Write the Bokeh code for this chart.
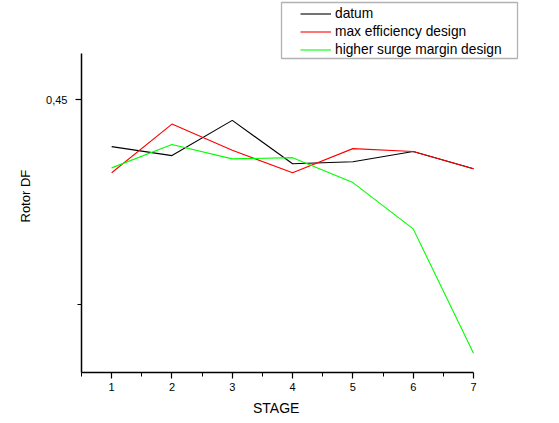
from bokeh.plotting import figure
from bokeh.models import FixedTicker, Legend, LegendItem, BoxAnnotation, Range1d, Title
from bokeh.embed import file_html
from bokeh.resources import INLINE

stages = [1, 2, 3, 4, 5, 6, 7]
datum = [0.4385, 0.4363, 0.4449, 0.4343, 0.4348, 0.4373, 0.4331]
max_efficiency = [0.4321, 0.4440, 0.4376, 0.4321, 0.4380, 0.4373, 0.4331]
higher_surge = [0.4333, 0.4390, 0.4355, 0.4358, 0.4297, 0.4184, 0.3880]

x_major_ticks = [1, 2, 3, 4, 5, 6, 7]
x_minor_ticks = [0.5, 1.5, 2.5, 3.5, 4.5, 5.5, 6.5]
y_major_ticks = [0.45]
y_minor_ticks = [0.40]
y_tick_labels = {0.45: "0,45"}
series_names = ["datum", "max efficiency design", "higher surge margin design"]
series_colors = ["#000000", "#ff0000", "#00ff00"]

x_axis_bounds = (0.5, 7)
y_axis_bounds = (0.38332, 0.46124)

FONT = "Liberation Sans"

p = figure(width=555, height=420, output_backend="svg", toolbar_location=None,
           x_range=Range1d(0.5, 8.3597), y_range=Range1d(0.38332, 0.474182),
           min_border_left=81, min_border_right=0, min_border_top=0,
           min_border_bottom=48)
p.outline_line_color = None
p.xgrid.visible = False
p.ygrid.visible = False
p.background_fill_color = "white"
p.border_fill_color = "white"

box = BoxAnnotation(left=200, right=436, top=370, bottom=314,
                    left_units="screen", right_units="screen",
                    top_units="screen", bottom_units="screen",
                    fill_alpha=0.0,
                    line_color="#000000", line_width=1.3, level="underlay")
p.add_layout(box)

renderers = []
for ys, c in zip([datum, max_efficiency, higher_surge], series_colors):
    r = p.line(stages, ys, line_color=c, line_width=1.1)
    renderers.append(r)

for ax in (p.xaxis[0], p.yaxis[0]):
    ax.axis_line_color = "#000000"
    ax.axis_line_width = 1.5
    ax.major_tick_line_color = "#000000"
    ax.minor_tick_line_color = "#000000"
    ax.major_tick_line_width = 1.2
    ax.minor_tick_line_width = 1
    ax.major_tick_in = 0
    ax.major_tick_out = 6
    ax.minor_tick_in = 0
    ax.minor_tick_out = 4
    ax.major_label_text_font = FONT
    ax.major_label_text_font_size = "11px"
    ax.major_label_text_color = "#000000"

p.xaxis.ticker = FixedTicker(ticks=x_major_ticks, minor_ticks=x_minor_ticks)
p.xaxis.bounds = x_axis_bounds
p.xaxis.major_label_standoff = 4

p.yaxis.ticker = FixedTicker(ticks=y_major_ticks, minor_ticks=y_minor_ticks)
p.yaxis.bounds = y_axis_bounds
p.yaxis.major_label_overrides = y_tick_labels
p.yaxis.major_label_standoff = 8

x_title = Title(text="STAGE", align="left", offset=171.5, standoff=8,
                text_font=FONT, text_font_size="14px", text_font_style="normal",
                text_color="#000000")
p.add_layout(x_title, "below")

y_title = Title(text="Rotor DF", align="left", offset=150, standoff=22,
                text_font=FONT, text_font_size="13px", text_font_style="normal",
                text_color="#000000")
p.add_layout(y_title, "left")

legend = Legend(items=[LegendItem(label=n, renderers=[r]) for n, r in zip(series_names, renderers)],
                location=(219, 314), padding=0, spacing=1,
                label_height=17, glyph_height=17, glyph_width=31,
                label_standoff=4, label_text_font=FONT,
                label_text_font_size="13.75px", label_text_color="#000000",
                border_line_color=None, background_fill_alpha=0.0)
p.add_layout(legend, "center")

open("out.html", "w").write(file_html(p, INLINE))
